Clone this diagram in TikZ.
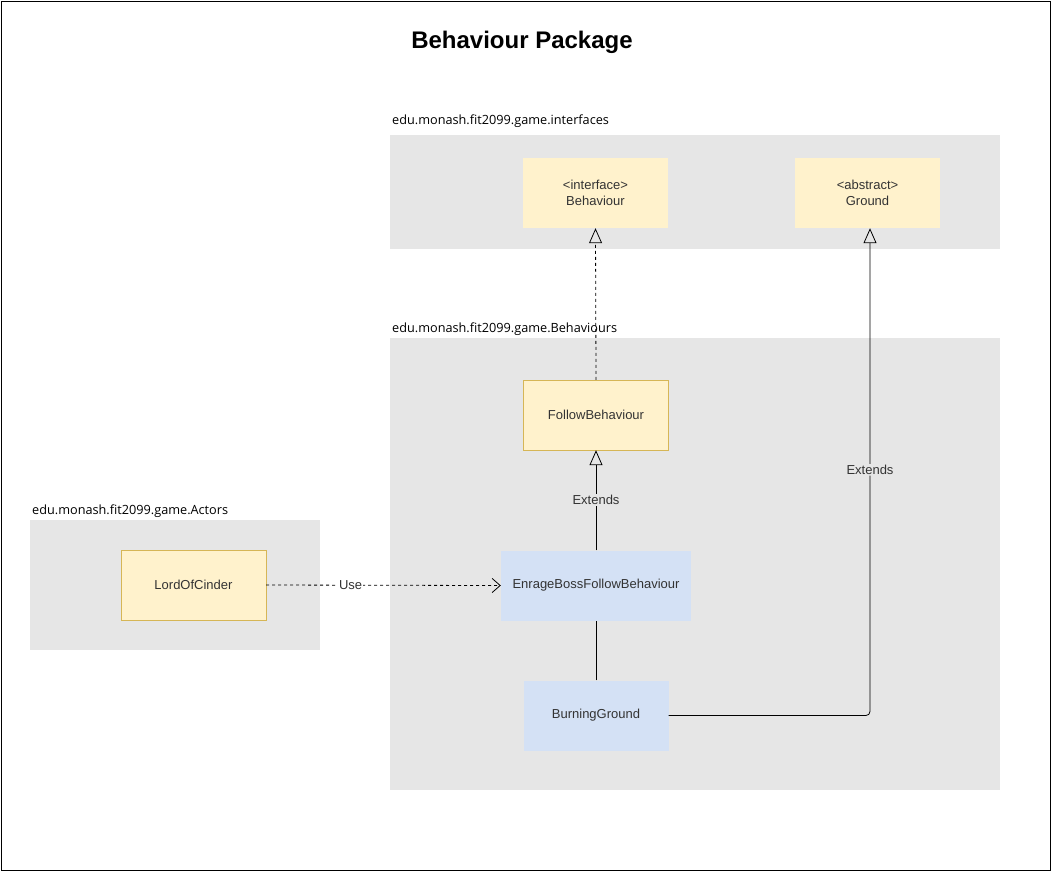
\documentclass[tikz,border=0pt]{standalone}
\usepackage{fontspec}
\setmainfont{Liberation Sans}
\newfontfamily\pkgfont{Open Sans}
\usetikzlibrary{arrows.meta}
\definecolor{pkggray}{HTML}{E6E6E6}
\definecolor{yellowfill}{HTML}{FFF2CC}
\definecolor{yellowline}{HTML}{D6B656}
\definecolor{bluefill}{HTML}{D4E1F5}
\definecolor{classtext}{HTML}{333333}
\begin{document}
\begin{tikzpicture}[x=1pt,y=-1pt,
  pkg/.style={fill=pkggray,draw=none,anchor=north west,inner sep=0},
  pkglabel/.style={anchor=base west,inner sep=0,font=\pkgfont\fontsize{12.7}{14}\selectfont},
  ybox/.style={fill=yellowfill,draw=none,minimum width=145pt,minimum height=70pt,inner sep=0,align=center,text=classtext,font=\fontsize{13}{15.5}\selectfont},
  ybord/.style={ybox,draw=yellowline},
  bbox/.style={fill=bluefill,draw=none,minimum width=145pt,minimum height=70pt,inner sep=0,align=center,text=classtext,font=\fontsize{13}{15.5}\selectfont},
  conn/.style={line width=0.8pt,black},
  inherit/.style={conn,-{Triangle[open,length=15pt,width=13pt]}},
  lbl/.style={fill=pkggray,inner sep=1pt,text=classtext,font=\fontsize{13}{15}\selectfont}
]
\useasboundingbox (0,0) rectangle (1051,871);
\node[draw=black,line width=1pt,minimum width=1049pt,minimum height=869pt,anchor=north west,inner sep=0] (frame) at (0.5,0.5) {};
\node[font=\bfseries\fontsize{24}{27}\selectfont] (title) at (522,42) {Behaviour Package};

% packages
\node[pkg,minimum width=610pt,minimum height=114pt] (pint) at (390,135) {};
\node[pkglabel] (lint) at (392,124) {edu.monash.fit2099.game.interfaces};
\node[pkg,minimum width=610pt,minimum height=452pt] (pbeh) at (390,338) {};
\node[pkglabel] (lbeh) at (392,332) {edu.monash.fit2099.game.Behaviours};
\node[pkg,minimum width=290pt,minimum height=130pt] (pact) at (30,520) {};
\node[pkglabel] (lact) at (32,514) {edu.monash.fit2099.game.Actors};

% classes
\node[ybox] (behaviour) at (595.5,193) {<interface>\\Behaviour};
\node[ybox] (ground) at (867.5,193) {<abstract>\\Ground};
\node[ybord] (follow) at (596,415) {FollowBehaviour};
\node[bbox,minimum width=190pt] (enrage) at (596,585.5) {EnrageBossFollowBehaviour};
\node[bbox] (burning) at (596,715.5) {BurningGround};
\node[ybord] (lord) at (193.5,585) {LordOfCinder};

% connectors
\draw[inherit,dashed,dash pattern=on 3pt off 3pt] (follow.north) -- (behaviour.south);
\draw[inherit] (enrage.north) -- node[lbl,pos=0.5] {Extends} (follow.south);
\draw[conn] (burning.north) -- (enrage.south);
\coordinate (bend) at (870,715.5);
\draw[inherit,rounded corners=4pt] (burning.east) -- (bend) -- node[lbl,pos=0.504] {Extends} (ground.south -| bend);
\draw[conn,dashed,dash pattern=on 3pt off 3pt,-{Straight Barb[length=8pt,width=14pt]}] (lord.east) -- node[fill=white,inner sep=1pt,pos=0.36,text=classtext,font=\fontsize{13}{15}\selectfont] {Use} (enrage.west);
\end{tikzpicture}
\end{document}
